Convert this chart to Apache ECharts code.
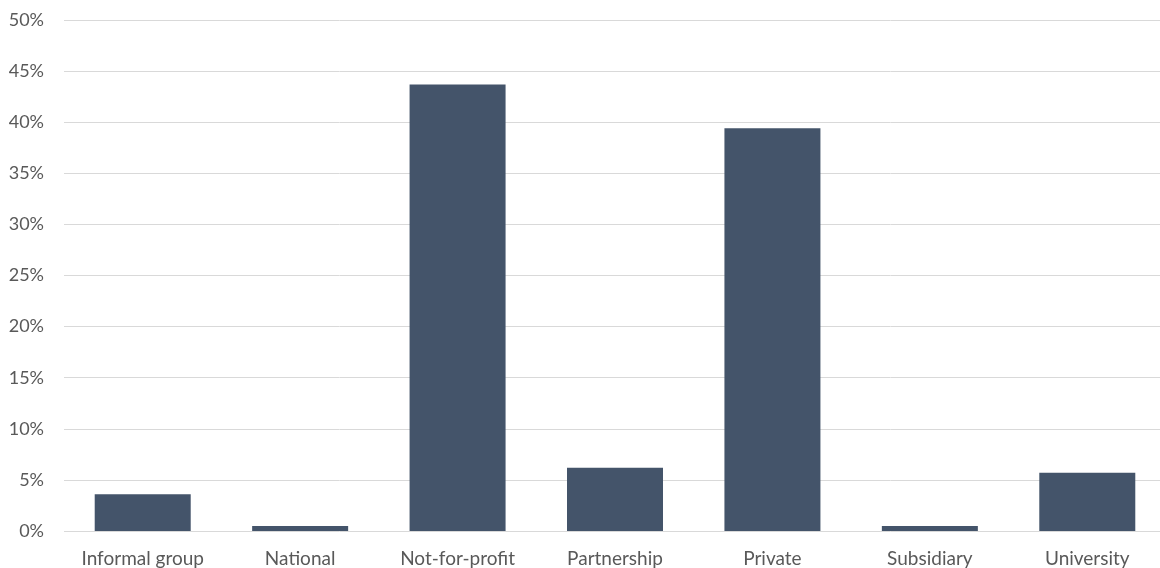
<!DOCTYPE html>
<html>
<head>
<meta charset="utf-8">
<script src="https://cdn.jsdelivr.net/npm/echarts@6/dist/echarts.min.js"></script>
<style>html,body{margin:0;padding:0;background:#fff;overflow:hidden;}#c{width:1172px;height:568px;}</style>
</head>
<body>
<div id="c"></div>
<script>
const categories = ['Informal group', 'National', 'Not-for-profit', 'Partnership', 'Private', 'Subsidiary', 'University'];
const values = [3.6, 0.5, 43.7, 6.2, 39.4, 0.5, 5.7];
const yTicks = { min: 0, max: 50, interval: 5 };

const chart = echarts.init(document.getElementById('c'), null, { renderer: 'canvas' });
chart.setOption({
  animation: false,
  grid: { left: 64, top: 20, width: 1102, height: 511, containLabel: false },
  xAxis: {
    type: 'category',
    data: categories,
    axisLine: { show: false },
    axisTick: { show: false },
    axisLabel: { color: '#595959', fontSize: 19, fontFamily: 'Lato, "Open Sans", sans-serif', margin: 18, interval: 0 }
  },
  yAxis: {
    type: 'value',
    min: yTicks.min, max: yTicks.max, interval: yTicks.interval,
    axisLine: { show: false },
    axisTick: { show: false },
    axisLabel: { color: '#595959', fontSize: 18, fontFamily: 'Lato, "Open Sans", sans-serif', margin: 20, formatter: v => v + '%' },
    splitLine: { lineStyle: { color: '#d9d9d9', width: 1 } }
  },
  series: [{
    type: 'bar',
    data: values,
    barWidth: 96,
    itemStyle: { color: '#44546A' }
  }]
});
</script>
</body>
</html>
